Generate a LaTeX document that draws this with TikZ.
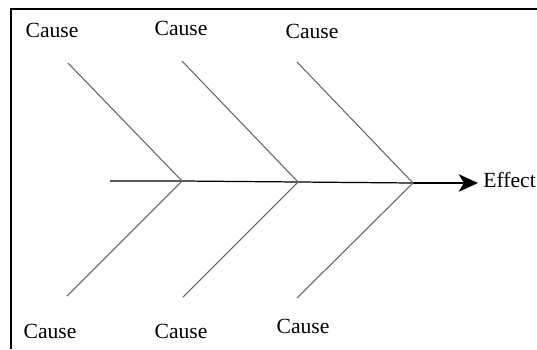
\documentclass[tikz,border=0pt]{standalone}
\usepackage{fontspec}
\setmainfont{Liberation Serif}
\usetikzlibrary{arrows.meta}
\tikzset{
  bone/.style={black!60,line width=.6pt},
  spine/.style={black,line width=.7pt},
  cause/.style={font=\fontsize{12.3}{14}\selectfont,inner sep=0pt},
}
\begin{document}
\begin{tikzpicture}[x=0.02cm,y=-0.02cm]
  \useasboundingbox (0,0) rectangle (537,349);
  \draw[line width=1pt] (11,349)--(11,9)--(537,9);
  % spine
  \coordinate (tail) at (110,181);
  \coordinate (j1) at (182,181);
  \coordinate (j2) at (298,182);
  \coordinate (j3) at (413,183);
  \coordinate (head) at (478,183);
  \draw[spine] (tail)--(j1)--(j2)--(j3);
  \draw[spine,-{Stealth[length=11pt,width=10pt,inset=3pt]}] (j3)--(head);
  \node[cause,anchor=west] (effect) at (483,180) {Effect};
  % bones
  \coordinate (u1) at (68,63);
  \coordinate (u2) at (182,61);
  \coordinate (u3) at (297,62);
  \coordinate (l1) at (67,296);
  \coordinate (l2) at (183,297);
  \coordinate (l3) at (297,298);
  \draw[bone] (u1)--(j1)--(l1);
  \draw[bone] (u2)--(j2)--(l2);
  \draw[bone] (u3)--(j3)--(l3);
  % labels
  \node[cause] (c1) at (52,30) {Cause};
  \node[cause] (c2) at (181,28) {Cause};
  \node[cause] (c3) at (312,31) {Cause};
  \node[cause] (c4) at (50,331) {Cause};
  \node[cause] (c5) at (181,331) {Cause};
  \node[cause] (c6) at (303,326) {Cause};
\end{tikzpicture}
\end{document}
